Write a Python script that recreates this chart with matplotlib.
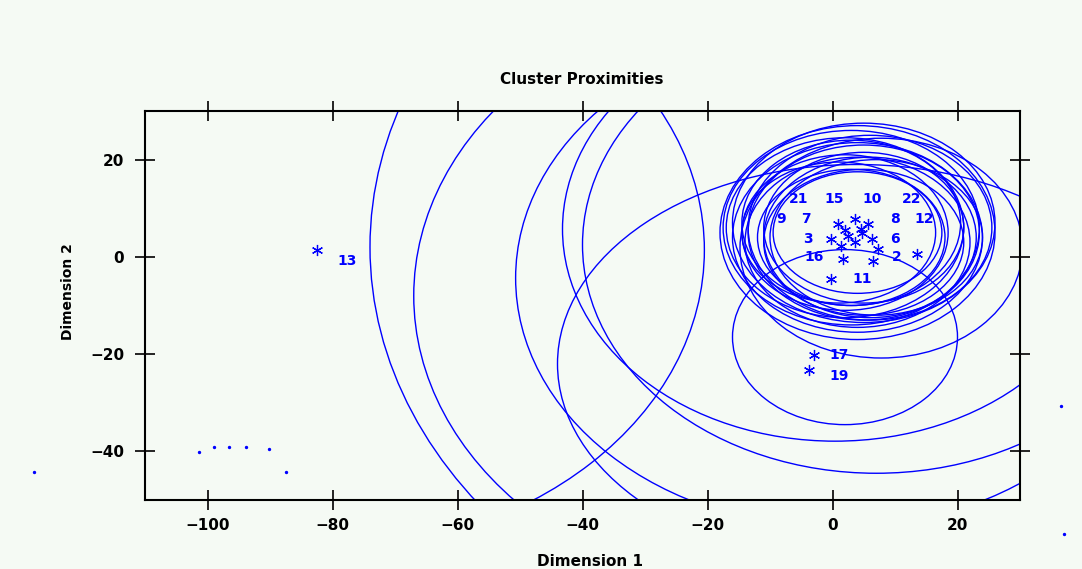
import numpy as np
import matplotlib
matplotlib.use('Agg')
from matplotlib import pyplot as plt
from matplotlib.patches import Ellipse

# circles: centre (dim 1, dim 2) and radius along each dimension
circ_x  = [4, 3, 5, 2, 6, 3, 4, 5, 2, 6, 4, 3, 5, 4, 7, 1, 5,
           7.8, 2, -82.5, 15, -4, 0.7, 0.4, 7, 4]
circ_y  = [5, 4, 6, 5, 4, 7, 3, 5, 6, 6, 4, 6, 7, 5, 4, 5, 3,
           1.8, -16.5, 1.4, 2, -8, -4.35, 5.7, 2.5, -22]
circ_rx = [13.5, 15, 16, 16.5, 17, 17.5, 18, 18.5, 19, 19.5, 20, 20.5, 21, 22, 17, 15.5, 16,
           22.6, 18, 62, 89, 63, 51.4, 43.6, 47, 48]
circ_ry = [12.5, 14, 15.5, 16, 16.5, 17, 17.5, 18, 18.5, 19, 19.5, 20, 20.5, 22, 16, 14.5, 15,
           22.6, 18, 62, 89, 63, 51.4, 43.6, 47, 41]

# cluster means (asterisks)
pt_x = [0.9, 3.6, 5.7, 4.7, 2.5, -0.2, 1.4, 3.6, 6.3, 7.3, 1.7, 6.5, 4.5, 2.0,
        -0.3, 13.5, -82.5, -2.9, -3.7]
pt_y = [6.7, 7.8, 6.7, 5.0, 4.3, 3.7, 2.3, 3.0, 3.7, 1.6, -0.4, -0.8, 5.8, 5.5,
        -4.5, 0.6, 1.4, -20.2, -23.3]

# cluster numbers as placed on the plot
lab_text = ['21', '15', '10', '22', '9', '7', '8', '12', '3', '6', '16', '2',
            '11', '13', '17', '19']
lab_x = [-5.5, 0.2, 6.3, 12.7, -8.2, -4.2, 10.0, 14.6, -3.9, 10.0, -3.0, 10.3,
         4.7, -77.6, 1.1, 1.1]
lab_y = [11.8, 11.8, 11.8, 11.8, 7.8, 7.8, 7.8, 7.8, 3.7, 3.7, 0.0, 0.0,
         -4.5, -0.8, -20.2, -24.5]

# loose plotted dots
dot_x = [-101.4, -99.0, -96.5, -93.9, -90.2, -87.5, -127.7, 36.5, 37.0]
dot_y = [-40.2, -39.0, -39.0, -39.0, -39.6, -44.3, -44.3, -30.6, -57.0]

xticks = [-100, -80, -60, -40, -20, 0, 20]
yticks = [-40, -20, 0, 20]

bg = '#f5faf4'
blue = '#0000ff'

fig = plt.figure(figsize=(10.82, 5.69), dpi=100, facecolor=bg)
ax = fig.add_axes([145/1082, 1-500/569, 875/1082, 389/569])
ax.set_facecolor(bg)

for x, y, rx, ry in zip(circ_x, circ_y, circ_rx, circ_ry):
    ax.add_patch(Ellipse((x, y), 2*rx, 2*ry, fill=False, ec=blue, lw=1.0))

ax.plot(pt_x, pt_y, ls='none', marker=(6, 2, 0), ms=8, mew=0.9, color=blue)

for t, x, y in zip(lab_text, lab_x, lab_y):
    ax.text(x, y, t, color=blue, fontsize=10, fontweight='bold', ha='center', va='center')

ax.scatter(dot_x, dot_y, s=2, color=blue, clip_on=False, zorder=3)

ax.set_xlim(-110, 30)
ax.set_ylim(-50, 30)
ax.set_xticks(xticks)
ax.set_yticks(yticks)
ax.tick_params(direction='inout', length=14, width=1.2, top=True, right=True,
               labelsize=11, colors='black')
ax.tick_params(axis='x', pad=6)
ax.tick_params(axis='y', pad=8)
for lab in ax.get_xticklabels() + ax.get_yticklabels():
    lab.set_fontweight('bold')
for s in ax.spines.values():
    s.set_linewidth(1.5)

fig.text(582/1082, 1-80/569, 'Cluster Proximities', fontsize=11, fontweight='bold',
         ha='center', va='center')
fig.text(590/1082, 1-562/569, 'Dimension 1', fontsize=11, fontweight='bold',
         ha='center', va='center')
fig.text(68/1082, 1-292/569, 'Dimension 2', fontsize=10, fontweight='bold',
         ha='center', va='center', rotation=90)

plt.savefig('out.png', dpi=100, facecolor=bg)
